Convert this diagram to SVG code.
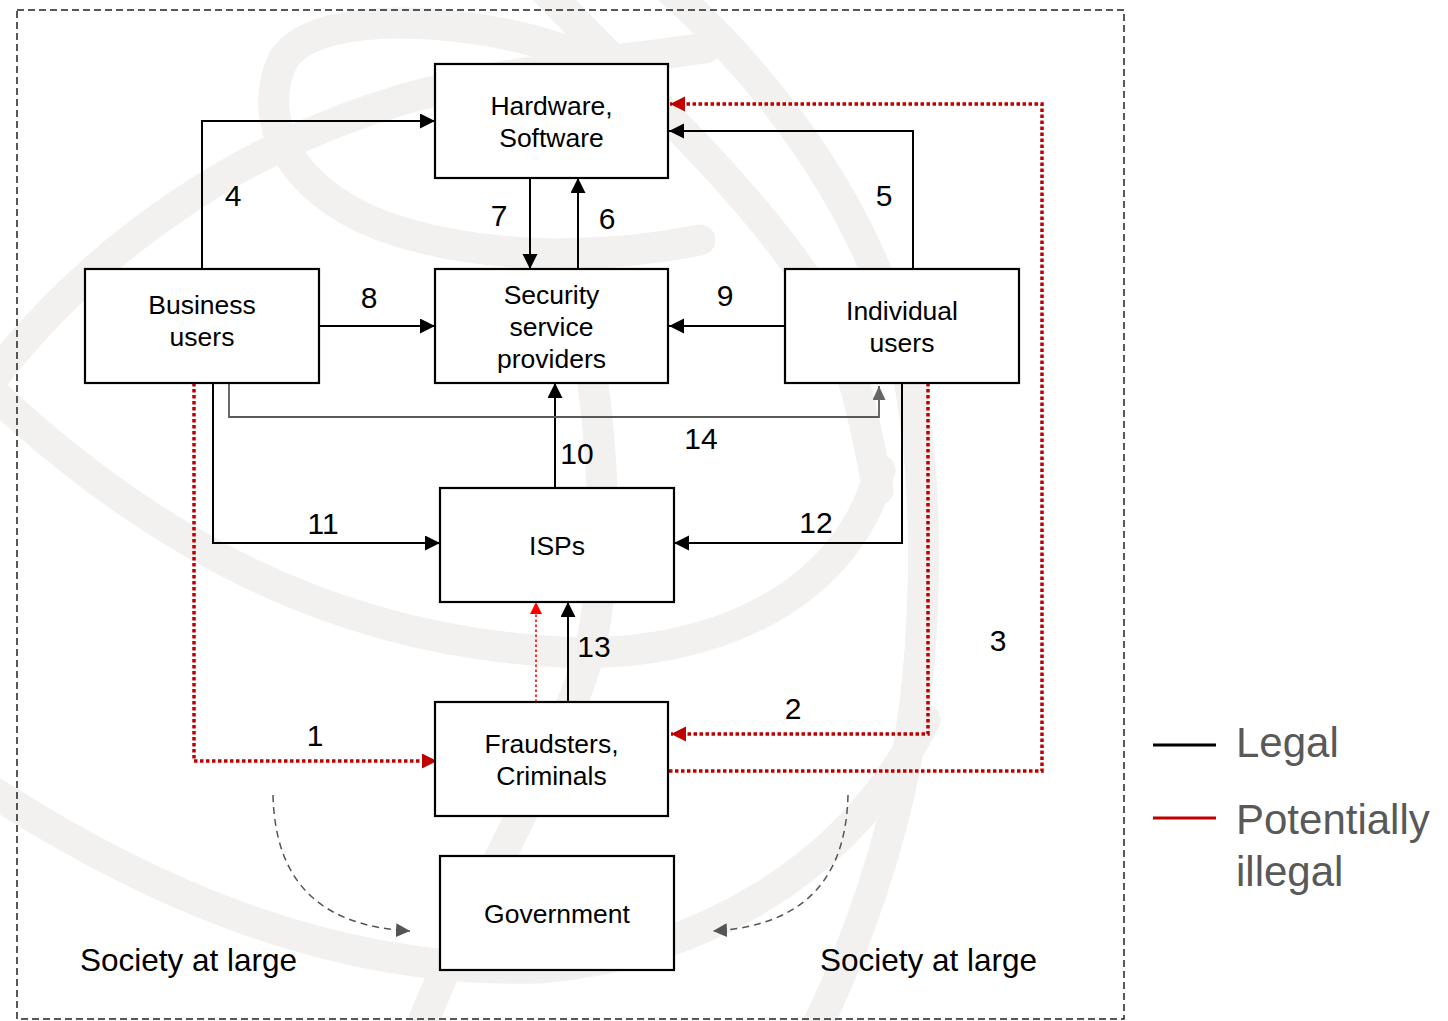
<svg xmlns="http://www.w3.org/2000/svg" width="1448" height="1021" viewBox="0 0 1448 1021">
  <style>
    .wm { fill: none; stroke: #f2f1ef; stroke-width: 31; stroke-linecap: round; }
    .node rect { fill: #ffffff; stroke: #000000; stroke-width: 2.2; }
    .node text, .lbl { font-family: "Liberation Sans", Arial, sans-serif; fill: #000000; text-anchor: middle; }
    .node text { font-size: 26.5px; }
    .lbl { font-size: 30px; }
    .soc { font-family: "Liberation Sans", Arial, sans-serif; font-size: 31.5px; fill: #000000; }
    .legal { fill: none; stroke: #000000; stroke-width: 2; }
    .illegal { fill: none; stroke: #c00000; stroke-width: 3.5; stroke-dasharray: 3.5 2.5; }
    .thin { fill: none; stroke: #ff0000; stroke-width: 1.6; stroke-dasharray: 2.5 2.5; }
    .grey { fill: none; stroke: #5a5a5a; stroke-width: 1.8; }
    .soft { fill: none; stroke: #555555; stroke-width: 1.5; stroke-dasharray: 7 5; }
    .leg { font-family: "Liberation Sans", Arial, sans-serif; font-size: 42px; fill: #595959; }
  </style>
  <defs>
    <marker id="ah" markerUnits="userSpaceOnUse" markerWidth="16" markerHeight="16" refX="15" refY="7.5" orient="auto">
      <path d="M0,0 L15,7.5 L0,15 z" fill="#000000"/>
    </marker>
    <marker id="ahRed" markerUnits="userSpaceOnUse" markerWidth="16" markerHeight="16" refX="15" refY="7.5" orient="auto">
      <path d="M0,0 L15,7.5 L0,15 z" fill="#c00000"/>
    </marker>
    <marker id="ahBright" markerUnits="userSpaceOnUse" markerWidth="13" markerHeight="13" refX="12" refY="6" orient="auto">
      <path d="M0,0 L12,6 L0,12 z" fill="#ff0000"/>
    </marker>
    <marker id="ahGrey" markerUnits="userSpaceOnUse" markerWidth="15" markerHeight="14" refX="14" refY="6.5" orient="auto">
      <path d="M0,0 L14,6.5 L0,13 z" fill="#666666"/>
    </marker>
    <marker id="ahSoft" markerUnits="userSpaceOnUse" markerWidth="15" markerHeight="15" refX="14" refY="7" orient="auto">
      <path d="M0,0 L14,7 L0,14 z" fill="#555555"/>
    </marker>
  </defs>

  <rect width="1448" height="1021" fill="#ffffff"/>

  <!-- background emblem strokes -->
  <g id="emblem">
    <path class="wm" d="M 610,70 C 520,20 320,0 283,60 C 255,120 290,190 380,225 C 470,258 590,262 700,240"/>
    <path class="wm" d="M -20,395 C 80,260 250,120 500,77 C 580,64 650,56 705,48"/>
    <path class="wm" d="M 545,-10 C 640,90 760,200 820,300 C 850,350 865,420 878,490"/>
    <path class="wm" d="M 670,-10 C 770,80 870,210 905,360 C 935,500 925,680 900,790 C 880,880 845,970 815,1030"/>
    <path class="wm" d="M -10,390 C 150,540 330,640 560,652 C 720,660 850,590 880,470"/>
    <path class="wm" d="M -10,790 C 130,880 320,975 540,968 C 700,955 850,870 925,720"/>
    <path class="wm" d="M 420,1030 C 470,900 560,760 590,650 C 610,560 605,450 585,330 C 580,300 578,285 575,270"/>
  </g>

  <!-- society boundary -->
  <rect x="17" y="10" width="1107" height="1009" fill="none" stroke="#222222" stroke-width="1.5" stroke-dasharray="7 4"/>

  <g id="connectors">
    <path class="legal" d="M 202,269 V 121 H 435" marker-end="url(#ah)"/>
    <path class="legal" d="M 913,269 V 131 H 669" marker-end="url(#ah)"/>
    <path class="legal" d="M 530,178 V 269" marker-end="url(#ah)"/>
    <path class="legal" d="M 578,269 V 178" marker-end="url(#ah)"/>
    <path class="legal" d="M 319,326 H 435" marker-end="url(#ah)"/>
    <path class="legal" d="M 785,326 H 669" marker-end="url(#ah)"/>
    <path class="legal" d="M 555,488 V 383" marker-end="url(#ah)"/>
    <path class="legal" d="M 213,383 V 543 H 440" marker-end="url(#ah)"/>
    <path class="legal" d="M 902,383 V 543 H 674" marker-end="url(#ah)"/>
    <path class="legal" d="M 568,702 V 602" marker-end="url(#ah)"/>
    <path class="grey" d="M 229,383 V 417 H 879 V 386" marker-end="url(#ahGrey)"/>
    <path class="illegal" d="M 194,383 V 761 H 437" marker-end="url(#ahRed)"/>
    <path class="illegal" d="M 928,383 V 734 H 671" marker-end="url(#ahRed)"/>
    <path class="illegal" d="M 669,771 H 1042 V 104 H 670" marker-end="url(#ahRed)"/>
    <path class="thin" d="M 536,702 V 602" marker-end="url(#ahBright)"/>
    <path class="soft" d="M 273,795 C 275,880 318,926 410,931" marker-end="url(#ahSoft)"/>
    <path class="soft" d="M 848,795 C 846,880 803,926 713,931" marker-end="url(#ahSoft)"/>
  </g>

  <g id="labels">
    <text class="lbl" x="233" y="206">4</text>
    <text class="lbl" x="499" y="226">7</text>
    <text class="lbl" x="607" y="229">6</text>
    <text class="lbl" x="884" y="206">5</text>
    <text class="lbl" x="369" y="308">8</text>
    <text class="lbl" x="725" y="306">9</text>
    <text class="lbl" x="701" y="449">14</text>
    <text class="lbl" x="577" y="464">10</text>
    <text class="lbl" x="323" y="534">11</text>
    <text class="lbl" x="816" y="533">12</text>
    <text class="lbl" x="998" y="651">3</text>
    <text class="lbl" x="594" y="657">13</text>
    <text class="lbl" x="793" y="719">2</text>
    <text class="lbl" x="315" y="746">1</text>
  </g>

  <g id="hardware" class="node">
    <rect x="435" y="64" width="233" height="114"/>
    <text x="551.5" y="115">Hardware,</text>
    <text x="551.5" y="147">Software</text>
  </g>
  <g id="security" class="node">
    <rect x="435" y="269" width="233" height="114"/>
    <text x="551.5" y="304">Security</text>
    <text x="551.5" y="336">service</text>
    <text x="551.5" y="368">providers</text>
  </g>
  <g id="business" class="node">
    <rect x="85" y="269" width="234" height="114"/>
    <text x="202" y="314">Business</text>
    <text x="202" y="346">users</text>
  </g>
  <g id="individual" class="node">
    <rect x="785" y="269" width="234" height="114"/>
    <text x="902" y="320">Individual</text>
    <text x="902" y="352">users</text>
  </g>
  <g id="isps" class="node">
    <rect x="440" y="488" width="234" height="114"/>
    <text x="557" y="555">ISPs</text>
  </g>
  <g id="fraudsters" class="node">
    <rect x="435" y="702" width="233" height="114"/>
    <text x="551.5" y="753">Fraudsters,</text>
    <text x="551.5" y="785">Criminals</text>
  </g>
  <g id="government" class="node">
    <rect x="440" y="856" width="234" height="114"/>
    <text x="557" y="923">Government</text>
  </g>

  <g id="society">
    <text class="soc" x="80" y="971">Society at large</text>
    <text class="soc" x="820" y="971">Society at large</text>
  </g>

  <g id="legend">
    <line x1="1153" y1="745" x2="1216" y2="745" stroke="#000000" stroke-width="3"/>
    <line x1="1153" y1="818" x2="1216" y2="818" stroke="#c00000" stroke-width="3"/>
    <text class="leg" x="1236" y="757">Legal</text>
    <text class="leg" x="1236" y="834">Potentially</text>
    <text class="leg" x="1236" y="886">illegal</text>
  </g>
</svg>
